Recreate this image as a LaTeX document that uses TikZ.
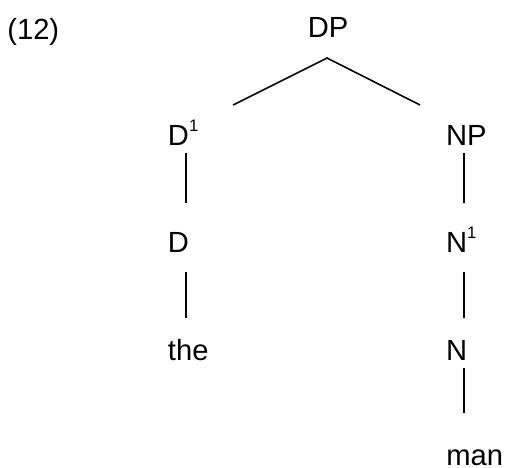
\documentclass[tikz,border=0pt]{standalone}
\usepackage{fontspec}
\setmainfont{Liberation Sans}
\usetikzlibrary{positioning}
\newcommand{\barlevel}[1]{\raisebox{7.5pt}{\fontsize{9.5}{9.5}\selectfont #1}}

\begin{document}
\begin{tikzpicture}[x=0.02cm, y=-0.02cm,
    lbl/.style={inner sep=0pt, text height=11.9pt, text depth=0pt, text width=20.5pt, align=left, anchor=base, font=\fontsize{16.6}{20}\selectfont},
    branch/.style={line width=0.9pt}]

    \useasboundingbox (0,0) rectangle (509,467);

    \node[lbl, anchor=base west, text width=] (exnum) at (7,39) {(12)};
    \node[lbl, anchor=base, text width=] (dp) at (328,37) {DP};

    % left branch
    \node[lbl] (dbar) at (186,145) {D\barlevel{1}};
    \node[lbl] (d) at (186,252) {D};
    \node[lbl] (the) at (186,360) {the};

    % right branch
    \node[lbl] (np) at (464,145) {NP};
    \node[lbl] (nbar) at (464,252) {N\barlevel{1}};
    \node[lbl] (n) at (464,360) {N};
    \node[lbl, anchor=base west, text width=] (man) at (446,465) {man};

    \coordinate (dpfoot) at (327,58);
    \coordinate (dbartop) at (233,105);
    \coordinate (nptop) at (420,105);
    \draw[branch] (dbartop) -- (dpfoot) -- (nptop);

    \draw[branch, shorten <=4.5pt, shorten >=15.9pt] (dbar) -- (d);
    \draw[branch, shorten <=11.3pt, shorten >=11.9pt] (d) -- (the);
    \draw[branch, shorten <=4.5pt, shorten >=15.9pt] (np) -- (nbar);
    \draw[branch, shorten <=11.3pt, shorten >=11.9pt] (nbar) -- (n);
    \draw[branch, shorten <=4.5pt, shorten >=17.6pt] (n) -- (n |- man.north);

\end{tikzpicture}
\end{document}
